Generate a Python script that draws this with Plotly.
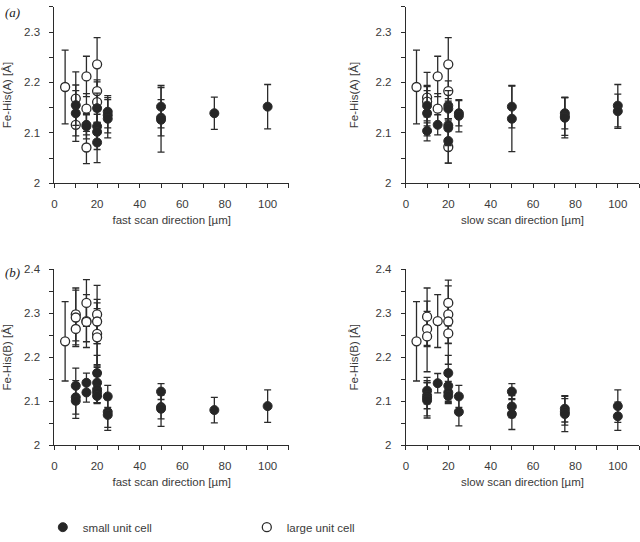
import plotly.graph_objects as go

# ---------------- data ----------------
# Panel (a) Fe-His(A), fast scan direction
a_fast_large_x = [5, 10, 10, 15, 15, 15, 20, 20, 20]
a_fast_large_y = [2.191, 2.168, 2.116, 2.212, 2.148, 2.071, 2.236, 2.183, 2.161]
a_fast_large_e = [0.073, 0.053, 0.033, 0.040, 0.030, 0.032, 0.053, 0.022, 0.040]
a_fast_small_x = [10, 10, 15, 15, 20, 20, 20, 20, 25, 25, 25, 50, 50, 50, 75, 100]
a_fast_small_y = [2.155, 2.139, 2.116, 2.113, 2.149, 2.113, 2.102, 2.081, 2.142, 2.135, 2.128,
                  2.152, 2.130, 2.126, 2.139, 2.152]
a_fast_small_e = [0.040, 0.045, 0.020, 0.025, 0.030, 0.030, 0.035, 0.040, 0.032, 0.035, 0.038,
                  0.042, 0.036, 0.064, 0.032, 0.044]

# Panel (a) Fe-His(A), slow scan direction
a_slow_large_x = [5, 10, 10, 15, 15, 20, 20, 20]
a_slow_large_y = [2.191, 2.170, 2.162, 2.212, 2.148, 2.236, 2.183, 2.072]
a_slow_large_e = [0.073, 0.050, 0.030, 0.040, 0.030, 0.053, 0.020, 0.032]
a_slow_small_x = [10, 10, 10, 15, 20, 20, 20, 20, 20, 25, 25, 50, 50, 75, 75, 75, 100, 100]
a_slow_small_y = [2.154, 2.139, 2.104, 2.116, 2.154, 2.148, 2.115, 2.110, 2.084, 2.139, 2.134,
                  2.152, 2.128, 2.139, 2.133, 2.130, 2.154, 2.143]
a_slow_small_e = [0.040, 0.045, 0.020, 0.020, 0.030, 0.020, 0.030, 0.035, 0.044, 0.025, 0.032,
                  0.042, 0.065, 0.031, 0.038, 0.040, 0.042, 0.034]

# Panel (b) Fe-His(B), fast scan direction
b_fast_large_x = [5, 10, 10, 10, 15, 15, 15, 20, 20, 20, 20]
b_fast_large_y = [2.236, 2.297, 2.290, 2.264, 2.323, 2.282, 2.280, 2.297, 2.281, 2.253, 2.245]
b_fast_large_e = [0.090, 0.060, 0.062, 0.040, 0.053, 0.060, 0.045, 0.066, 0.050, 0.070, 0.065]
b_fast_small_x = [10, 10, 10, 15, 15, 20, 20, 20, 20, 20, 25, 25, 25, 50, 50, 50, 75, 100]
b_fast_small_y = [2.135, 2.109, 2.101, 2.142, 2.120, 2.164, 2.142, 2.127, 2.120, 2.112,
                  2.111, 2.076, 2.069, 2.122, 2.087, 2.083, 2.080, 2.089]
b_fast_small_e = [0.040, 0.038, 0.040, 0.022, 0.022, 0.040, 0.035, 0.030, 0.025, 0.015,
                  0.025, 0.035, 0.035, 0.018, 0.027, 0.040, 0.029, 0.037]

# Panel (b) Fe-His(B), slow scan direction
b_slow_large_x = [5, 10, 10, 10, 15, 20, 20, 20, 20]
b_slow_large_y = [2.236, 2.292, 2.264, 2.247, 2.282, 2.323, 2.297, 2.281, 2.254]
b_slow_large_e = [0.090, 0.065, 0.040, 0.080, 0.060, 0.052, 0.065, 0.050, 0.070]
b_slow_small_x = [10, 10, 10, 10, 15, 20, 20, 20, 20, 25, 25, 50, 50, 50, 75, 75, 75, 100, 100]
b_slow_small_y = [2.124, 2.113, 2.107, 2.102, 2.141, 2.164, 2.135, 2.120, 2.112, 2.111, 2.076,
                  2.122, 2.088, 2.071, 2.083, 2.076, 2.071, 2.089, 2.066]
b_slow_small_e = [0.030, 0.030, 0.040, 0.040, 0.022, 0.040, 0.035, 0.025, 0.015, 0.025, 0.032,
                  0.018, 0.025, 0.035, 0.030, 0.030, 0.040, 0.037, 0.032]

x_titles = ["fast scan direction [µm]", "slow scan direction [µm]",
            "fast scan direction [µm]", "slow scan direction [µm]"]
y_titles = ["Fe-His(A) [Å]", "Fe-His(A) [Å]", "Fe-His(B) [Å]", "Fe-His(B) [Å]"]
panel_labels = ["(a)", "(b)"]
legend_names = ["small unit cell", "large unit cell"]

# ---------------- figure ----------------
INK = "#2b2b2b"
TXT = "#3a3a3a"
FONT = "Arial, Liberation Sans, sans-serif"

panels = [
    ("x", "y", a_fast_large_x, a_fast_large_y, a_fast_large_e, a_fast_small_x, a_fast_small_y, a_fast_small_e),
    ("x2", "y2", a_slow_large_x, a_slow_large_y, a_slow_large_e, a_slow_small_x, a_slow_small_y, a_slow_small_e),
    ("x3", "y3", b_fast_large_x, b_fast_large_y, b_fast_large_e, b_fast_small_x, b_fast_small_y, b_fast_small_e),
    ("x4", "y4", b_slow_large_x, b_slow_large_y, b_slow_large_e, b_slow_small_x, b_slow_small_y, b_slow_small_e),
]

fig = go.Figure()
for i, (xa, ya, lx, ly, le, sx, sy, se) in enumerate(panels):
    err_style = dict(thickness=1.3, width=3.5, color=INK)
    fig.add_trace(go.Scatter(
        x=lx, y=ly, mode="markers", xaxis=xa, yaxis=ya,
        name=legend_names[1], legendgroup="large", showlegend=(i == 0), legendrank=2,
        marker=dict(symbol="circle", size=9, color="white", line=dict(color=INK, width=1.3)),
        error_y=dict(type="data", array=le, visible=True, **err_style),
    ))
    fig.add_trace(go.Scatter(
        x=sx, y=sy, mode="markers", xaxis=xa, yaxis=ya,
        name=legend_names[0], legendgroup="small", showlegend=(i == 0), legendrank=1,
        marker=dict(symbol="circle", size=9, color="#262626", line=dict(color=INK, width=1)),
        error_y=dict(type="data", array=se, visible=True, **err_style),
    ))

W, H = 640, 542
xdom_left = [51.7 / W, 287.3 / W]
xdom_right = [404.8 / W, 639.0 / W]
ydom_top = [(H - 182.0) / H, (H - 0.85) / H]
ydom_bot = [(H - 451.0) / H, (H - 270.0) / H]

def xaxis(dom, anchor, title):
    return dict(domain=dom, anchor=anchor, range=[0, 110], dtick=20, tick0=0,
                showline=True, linecolor=INK, linewidth=1.2, showgrid=False, zeroline=False,
                ticks="outside", ticklen=4, tickwidth=1.2, tickcolor=INK,
                ticklabelstandoff=6,
                minor=dict(dtick=10, tick0=0, ticks="outside", ticklen=4, tickwidth=1.2, tickcolor=INK, showgrid=False),
                tickfont=dict(family=FONT, size=11.5, color=TXT),
                title=dict(text=title, font=dict(family=FONT, size=11.5, color=TXT), standoff=6))

def yaxis(dom, anchor, rng, title, standoff):
    return dict(domain=dom, anchor=anchor, range=rng, dtick=0.1, tick0=2,
                showline=True, linecolor=INK, linewidth=1.2, showgrid=False, zeroline=False,
                ticks="outside", ticklen=4, tickwidth=1.2, tickcolor=INK,
                ticklabelstandoff=7,
                minor=dict(dtick=0.05, tick0=2, ticks="outside", ticklen=4, tickwidth=1.2, tickcolor=INK, showgrid=False),
                tickfont=dict(family=FONT, size=11.5, color=TXT),
                title=dict(text=title, font=dict(family=FONT, size=11.5, color=TXT), standoff=standoff))

fig.update_layout(
    width=W, height=H, autosize=False,
    margin=dict(l=0, r=0, t=0, b=0),
    paper_bgcolor="white", plot_bgcolor="white",
    xaxis=xaxis(xdom_left, "y", x_titles[0]),
    xaxis2=xaxis(xdom_right, "y2", x_titles[1]),
    xaxis3=xaxis(xdom_left, "y3", x_titles[2]),
    xaxis4=xaxis(xdom_right, "y4", x_titles[3]),
    yaxis=yaxis(ydom_top, "x", [2, 2.35], y_titles[0], 10),
    yaxis2=yaxis(ydom_top, "x2", [2, 2.35], y_titles[1], 14),
    yaxis3=yaxis(ydom_bot, "x3", [2, 2.4], y_titles[2], 10),
    yaxis4=yaxis(ydom_bot, "x4", [2, 2.4], y_titles[3], 14),
    legend=dict(orientation="h", x=40 / W, xanchor="left", y=(H - 535) / H, yanchor="middle",
                entrywidth=159, entrywidthmode="pixels",
                font=dict(family=FONT, size=11.5, color=TXT), bgcolor="rgba(0,0,0,0)",
                itemclick=False, itemdoubleclick=False, traceorder="normal"),
    showlegend=True,
)

fig.add_annotation(text=panel_labels[0], x=0, y=(H - 7) / H, xref="paper", yref="paper",
                   xanchor="left", yanchor="middle", showarrow=False,
                   font=dict(family="Liberation Serif, Times New Roman, serif", size=13, color="#222"))
fig.add_annotation(text=panel_labels[1], x=0, y=(H - 274) / H, xref="paper", yref="paper",
                   xanchor="left", yanchor="middle", showarrow=False,
                   font=dict(family="Liberation Serif, Times New Roman, serif", size=13, color="#222"))
fig.update_annotations(font_style="italic")

fig.write_html("out.html")
